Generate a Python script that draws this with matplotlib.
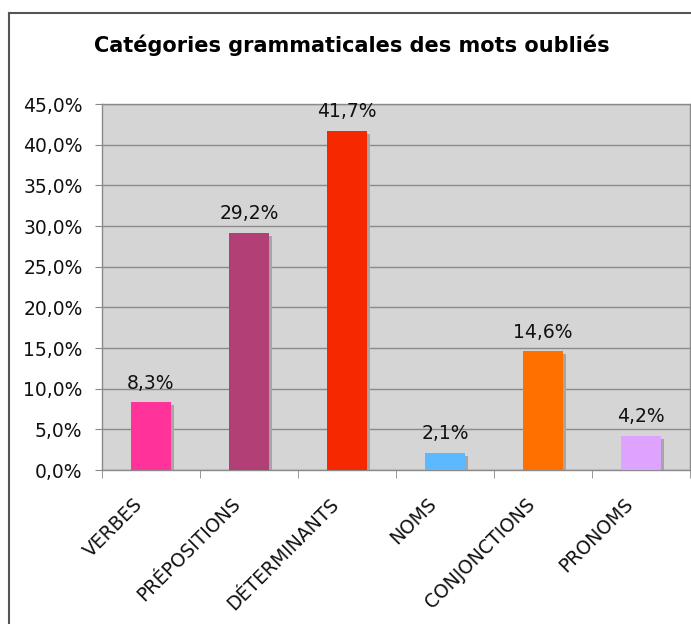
import matplotlib
matplotlib.use("Agg")
import matplotlib.pyplot as plt
import matplotlib.transforms as mtransforms
from matplotlib.ticker import FuncFormatter, FixedLocator
from matplotlib.lines import Line2D

categories = ["VERBES", "PRÉPOSITIONS", "DÉTERMINANTS", "NOMS", "CONJONCTIONS", "PRONOMS"]
values = [8.3, 29.2, 41.7, 2.1, 14.6, 4.2]
colors = ["#ff3399", "#b33f77", "#f52800", "#5cb8ff", "#ff7000", "#dda3ff"]
yticks = [0, 5, 10, 15, 20, 25, 30, 35, 40, 45]
title = "Catégories grammaticales des mots oubliés"

plt.rcParams['font.family'] = ['DejaVu Sans']

fig = plt.figure(figsize=(6.91, 6.24), dpi=100)
ax = fig.add_axes([102/691, 1-470/624, (690-102)/691, (470-104)/624])
ax.set_facecolor("#d5d5d5")

x = list(range(len(categories)))
shadow_tr = ax.transData + mtransforms.ScaledTranslation(3/100, -3/100, fig.dpi_scale_trans)
ax.bar(x, values, width=0.4, color="#a6a6a6", transform=shadow_tr, zorder=2)
ax.bar(x, values, width=0.4, color=colors, zorder=3)

for xi, v in zip(x, values):
    ax.annotate(f"{v:.1f}%".replace(".", ","), (xi, v), xytext=(0, 7),
                textcoords="offset points", ha="center", va="bottom",
                fontsize=13.5, color="#111111", zorder=4)

ax.set_xlim(-0.5, 5.5)
ax.set_ylim(0, 45)
ax.set_yticks(yticks)
ax.yaxis.set_major_formatter(FuncFormatter(lambda v, p: f"{v:.1f}%".replace(".", ",")))
ax.tick_params(axis="y", length=5, color="#888888", labelsize=13.5, pad=9, labelcolor="#111111")
ax.grid(axis="y", color="#8a8a8a", linewidth=1, zorder=1)
ax.set_axisbelow(True)

ax.set_xticks(x)
ax.set_xticklabels(categories, rotation=45, ha="right", rotation_mode="anchor",
                   fontsize=13.5, color="#111111")
ax.tick_params(axis="x", which="major", length=0, pad=14)
ax.xaxis.set_minor_locator(FixedLocator([i - 0.5 for i in range(len(categories) + 1)]))
ax.tick_params(axis="x", which="minor", length=6, color="#888888")
shift = mtransforms.ScaledTranslation(-18/100, -5/100, fig.dpi_scale_trans)
for lbl in ax.get_xticklabels():
    lbl.set_transform(lbl.get_transform() + shift)

for s in ax.spines.values():
    s.set_color("#8a8a8a")
    s.set_linewidth(1)

fig.text(352/691, 1-45/624, title, ha="center", va="center",
         fontsize=15, fontweight="bold", color="#000000")

# outer frame
fig.add_artist(Line2D([8.5/691, 8.5/691], [0, 1-13/624], transform=fig.transFigure,
                      color="#555555", linewidth=1.5))
fig.add_artist(Line2D([8.5/691, 1], [1-13/624, 1-13/624], transform=fig.transFigure,
                      color="#555555", linewidth=1.5))

fig.savefig("out.png", dpi=100)
